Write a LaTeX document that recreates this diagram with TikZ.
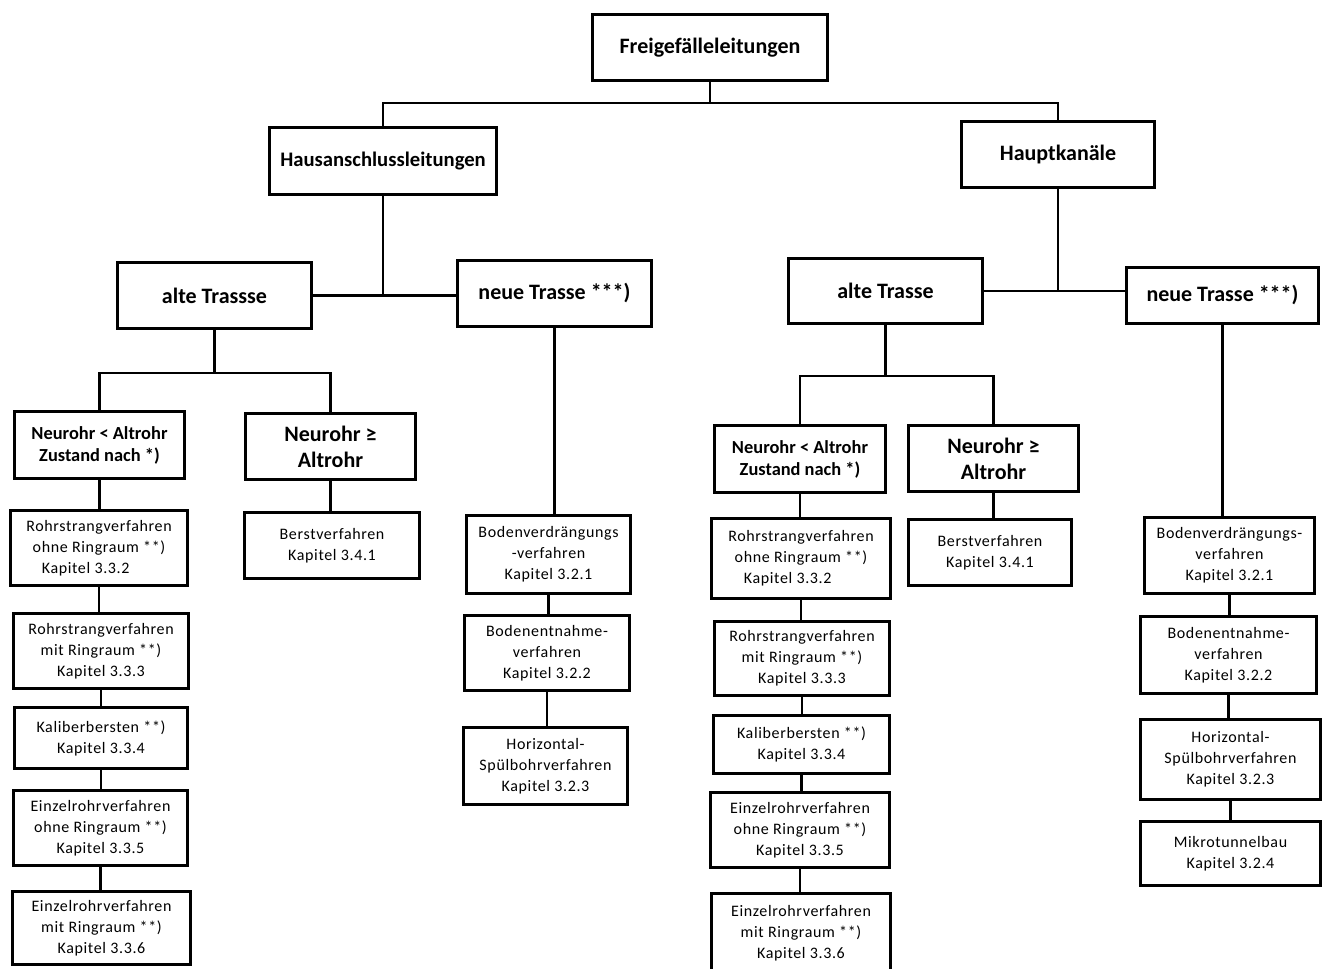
\documentclass[tikz,border=0pt]{standalone}
\usepackage{fontspec}
\setmainfont{Carlito}
\newfontfamily\spaced[LetterSpace=4]{Carlito}
\usetikzlibrary{positioning,calc}

\begin{document}
\begin{tikzpicture}[x=0.75pt,y=-0.75pt,
  n/.style={draw, line width=2.4pt, fill=white, align=center, inner sep=0pt},
  wh/.style 2 args={minimum width=0.75pt*#1, minimum height=0.75pt*#2},
  hd/.style={n, font=\bfseries\fontsize{16.5}{20}\selectfont},
  cond/.style={n, font=\bfseries\fontsize{13.8}{16.5}\selectfont},
  condb/.style={n, font=\bfseries\fontsize{16.5}{19.5}\selectfont},
  proc/.style={n, font=\spaced\fontsize{12}{15.75}\selectfont},
  ln/.style={line width=2pt}
]
\useasboundingbox (0,0) rectangle (1327,969);

\node[hd, wh={235}{66}] (root) at (710,47.5) {Freigefälleleitungen};
\node[hd, wh={227}{67}, font=\bfseries\fontsize{15.5}{20}\selectfont] (haus) at (383,161) {Hausanschlussleitungen};
\node[hd, wh={193}{66}] (haupt) at (1058,154.5) {Hauptkanäle};

\node[hd, wh={194}{66}] (altL) at (214.5,295.5) {alte Trassse};
\node[hd, wh={194}{66}] (neuL) at (554.5,293.5) {neue Trasse ***)};
\node[hd, wh={194}{65}] (altR) at (885.5,291) {alte Trasse};
\node[hd, wh={192}{56}] (neuR) at (1222.5,295.5) {neue Trasse ***)};

\node[cond, wh={170}{67}] (nlL) at (99.5,445) {Neurohr < Altrohr\\Zustand nach *)};
\node[condb, wh={170}{66}] (ngL) at (330.5,446.5) {Neurohr ≥\\Altrohr};
\node[cond, wh={171}{67}] (nlR) at (800,459) {Neurohr < Altrohr\\Zustand nach *)};
\node[condb, wh={170}{66}] (ngR) at (993.5,458.5) {Neurohr ≥\\Altrohr};

\node[proc, wh={175}{66}] (bsL) at (332,545.5) {Berstverfahren\\Kapitel 3.4.1};
\node[proc, wh={177}{75}] (r1L) at (99,548) {Rohrstrangverfahren\\ohne Ringraum **)\\Kapitel 3.3.2\hspace*{20pt}};
\node[proc, wh={175}{75}] (r2L) at (101,651) {Rohrstrangverfahren\\mit Ringraum **)\\Kapitel 3.3.3};
\node[proc, wh={173}{61}] (kbL) at (101,738) {Kaliberbersten **)\\Kapitel 3.3.4};
\node[proc, wh={174}{75}] (e1L) at (100.5,828) {Einzelrohrverfahren\\ohne Ringraum **)\\Kapitel 3.3.5};
\node[proc, wh={178}{73}] (e2L) at (101.5,928) {Einzelrohrverfahren\\mit Ringraum **)\\Kapitel 3.3.6};

\node[proc, wh={164}{78}] (bvL) at (548.5,554.5) {Bodenverdrängungs\\-verfahren\\Kapitel 3.2.1};
\node[proc, wh={165}{75}] (beL) at (547,653) {Bodenentnahme-\\verfahren\\Kapitel 3.2.2};
\node[proc, wh={164}{77}] (hsL) at (545.5,766) {Horizontal-\\Spülbohrverfahren\\Kapitel 3.2.3};

\node[proc, wh={163}{66}] (bsR) at (990,552.5) {Berstverfahren\\Kapitel 3.4.1};
\node[proc, wh={179}{80}] (r1R) at (801,558.5) {Rohrstrangverfahren\\ohne Ringraum **)\\Kapitel 3.3.2\hspace*{20pt}};
\node[proc, wh={175}{74}] (r2R) at (802,658.5) {Rohrstrangverfahren\\mit Ringraum **)\\Kapitel 3.3.3};
\node[proc, wh={176}{58}] (kbR) at (801.5,744.5) {Kaliberbersten **)\\Kapitel 3.3.4};
\node[proc, wh={179}{75}] (e1R) at (800,830) {Einzelrohrverfahren\\ohne Ringraum **)\\Kapitel 3.3.5};
\node[proc, wh={179}{80}] (e2R) at (801,933.5) {Einzelrohrverfahren\\mit Ringraum **)\\Kapitel 3.3.6};

\node[proc, wh={170}{76}] (bvR) at (1229.5,555.5) {Bodenverdrängungs-\\verfahren\\Kapitel 3.2.1};
\node[proc, wh={176}{77}] (beR) at (1228.5,655) {Bodenentnahme-\\verfahren\\Kapitel 3.2.2};
\node[proc, wh={180}{80}] (hsR) at (1230.5,759.5) {Horizontal-\\Spülbohrverfahren\\Kapitel 3.2.3};
\node[proc, wh={180}{64}] (mtR) at (1230.5,853.5) {Mikrotunnelbau\\Kapitel 3.2.4};

\coordinate (bar) at (710,103);
\draw[ln] (root.south) -- (bar);
\draw[ln] (haus.north) |- (bar) -| (haupt.north);

\draw[ln] (haus.south) -- (haus.south |- altL.east);
\draw[ln] (altL.east) -- (altL.east -| neuL.west);
\draw[ln] (haupt.south) -- (haupt.south |- altR.east);
\draw[ln] (altR.east) -- (altR.east -| neuR.west);

\draw[ln] (altL.south) -- ++(0,43) coordinate (jL);
\draw[ln] (nlL.north) |- (jL) -| (ngL.north);
\draw[ln] (altR.south) -- ++(0,51) coordinate (jR);
\draw[ln] (nlR.north) |- (jR) -| (ngR.north);

\draw[ln] (neuL.south) -- (neuL.south |- bvL.north);
\draw[ln] (neuR.south) -- (neuR.south |- bvR.north);

\foreach \a/\b in {nlL/r1L, r1L/r2L, r2L/kbL, kbL/e1L, e1L/e2L, ngL/bsL,
                   nlR/r1R, r1R/r2R, r2R/kbR, kbR/e1R, e1R/e2R, ngR/bsR,
                   bvL/beL, beL/hsL, bvR/beR, beR/hsR, hsR/mtR}
  \draw[ln] (\a.south) -- (\a.south |- \b.north);
\end{tikzpicture}
\end{document}
